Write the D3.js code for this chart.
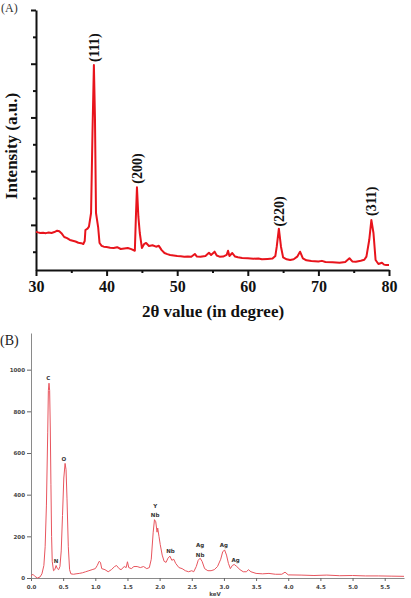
<!DOCTYPE html>
<html>
<head>
<meta charset="utf-8">
<script src="https://d3js.org/d3.v7.min.js"></script>
<style>
  body { margin: 0; background: #fff; }
  svg { display: block; }
</style>
</head>
<body>
<script>
// Panel A: XRD pattern (2-theta, intensity a.u.)
var xrdPoints = [
  [30.0, 873], [30.3, 860], [30.6, 849], [31.0, 855], [31.4, 846], [31.8, 858], [32.2, 850],
  [32.6, 866], [33.0, 892], [33.3, 880], [33.6, 845], [34.0, 774], [34.4, 752], [34.8, 720],
  [35.2, 705], [35.6, 690], [36.0, 668], [36.4, 660], [36.7, 644], [36.9, 700], [37.0, 905],
  [37.3, 930], [37.5, 966], [37.8, 1221], [38.0, 2710], [38.2, 3976], [38.35, 3008],
  [38.5, 1221], [38.8, 960], [39.0, 663], [39.3, 610], [39.6, 594], [40.0, 588], [40.5, 575],
  [41.0, 570], [41.5, 585], [42.0, 551], [42.5, 560], [43.0, 570], [43.5, 548], [44.0, 519],
  [44.15, 1152], [44.3, 1699], [44.5, 1152], [44.7, 849], [45.0, 570], [45.3, 640],
  [45.6, 663], [46.0, 607], [46.5, 620], [47.0, 594], [47.4, 610], [47.8, 530], [48.2, 476],
  [48.6, 455], [49.0, 439], [49.5, 430], [50.0, 421], [50.5, 415], [51.0, 408], [51.5, 412],
  [52.0, 408], [52.5, 458], [52.8, 410], [53.3, 405], [54.0, 421], [54.5, 482], [54.8, 440],
  [55.3, 501], [55.6, 430], [56.0, 408], [56.5, 410], [57.0, 440], [57.2, 519], [57.4, 420],
  [57.8, 476], [58.2, 410], [58.6, 396], [59.2, 385], [60.0, 378], [60.8, 370], [61.5, 375],
  [62.0, 359], [62.8, 365], [63.5, 372], [63.9, 420], [64.1, 594], [64.4, 929], [64.7, 594],
  [65.0, 396], [65.5, 360], [66.0, 346], [66.5, 360], [67.0, 408], [67.4, 501], [67.8, 378],
  [68.3, 340], [69.0, 328], [70.0, 320], [70.5, 330], [71.0, 309], [72.0, 305], [73.0, 296],
  [73.8, 310], [74.4, 378], [74.8, 320], [75.3, 315], [76.0, 333], [76.5, 350], [76.8, 408],
  [77.2, 718], [77.5, 1091], [77.8, 849], [78.1, 346], [78.5, 272], [79.0, 296], [79.3, 260],
  [79.6, 253], [80.0, 253]
];
var xrdTicksMajor = [30, 40, 50, 60, 70, 80];
var xrdTicksMinor = [35, 45, 55, 65, 75];
var intensityTicksMajor = [1000, 2000, 3000, 4000, 5000];
var intensityTicksMinor = [500, 1500, 2500, 3500, 4500];
var peakLabels = [
  { hkl: "(111)", theta: 38.2, at: 4300 },
  { hkl: "(200)", theta: 44.3, at: 2050 },
  { hkl: "(220)", theta: 64.4, at: 1250 },
  { hkl: "(311)", theta: 77.5, at: 1440 }
];

// Panel B: EDS spectrum (keV, counts)
var edsPoints = [
  [0.0, 10], [0.03, 18], [0.06, 8], [0.1, 0], [0.14, 5], [0.17, 20], [0.2, 60], [0.22, 150],
  [0.24, 350], [0.26, 700], [0.27, 900], [0.28, 935], [0.29, 900], [0.3, 720], [0.31, 450],
  [0.32, 200], [0.33, 80], [0.35, 35], [0.37, 40], [0.39, 60], [0.41, 45], [0.43, 40],
  [0.45, 55], [0.47, 130], [0.49, 300], [0.51, 480], [0.53, 550], [0.545, 520], [0.56, 380],
  [0.58, 150], [0.6, 40], [0.62, 20], [0.66, 18], [0.7, 20], [0.75, 22], [0.8, 25], [0.85, 30],
  [0.9, 35], [0.95, 40], [1.0, 45], [1.03, 60], [1.06, 80], [1.08, 75], [1.1, 45], [1.15, 40],
  [1.2, 30], [1.25, 40], [1.3, 55], [1.33, 60], [1.37, 45], [1.4, 40], [1.45, 55], [1.48, 50],
  [1.5, 78], [1.52, 50], [1.56, 45], [1.6, 55], [1.65, 55], [1.7, 50], [1.75, 55], [1.8, 45],
  [1.84, 50], [1.87, 90], [1.9, 220], [1.92, 280], [1.94, 270], [1.96, 220], [1.97, 240],
  [1.99, 200], [2.01, 160], [2.04, 110], [2.07, 80], [2.1, 75], [2.13, 95], [2.16, 105],
  [2.19, 85], [2.22, 90], [2.25, 70], [2.3, 50], [2.35, 45], [2.4, 35], [2.45, 30], [2.5, 35],
  [2.53, 30], [2.57, 55], [2.6, 85], [2.63, 95], [2.66, 80], [2.7, 45], [2.75, 35], [2.8, 35],
  [2.85, 40], [2.9, 55], [2.95, 90], [2.98, 125], [3.01, 135], [3.04, 110], [3.07, 70],
  [3.1, 45], [3.13, 60], [3.16, 65], [3.2, 55], [3.25, 40], [3.3, 30], [3.35, 30], [3.38, 40],
  [3.42, 30], [3.5, 22], [3.6, 20], [3.7, 22], [3.8, 18], [3.9, 18], [3.95, 28], [4.0, 15],
  [4.2, 14], [4.4, 12], [4.6, 14], [4.8, 11], [5.0, 12], [5.2, 10], [5.4, 10], [5.6, 9], [5.8, 8]
];
var kevTicks = [0, 0.5, 1, 1.5, 2, 2.5, 3, 3.5, 4, 4.5, 5, 5.5];
var countTicks = [0, 200, 400, 600, 800, 1000];
var elementLabels = [
  { el: "C", kev: 0.27, at: 950 },
  { el: "N", kev: 0.39, at: 72 },
  { el: "O", kev: 0.51, at: 560 },
  { el: "Y", kev: 1.93, at: 336 },
  { el: "Nb", kev: 1.93, at: 293 },
  { el: "Nb", kev: 2.17, at: 120 },
  { el: "Ag", kev: 2.63, at: 147 },
  { el: "Nb", kev: 2.63, at: 101 },
  { el: "Ag", kev: 3.0, at: 147 },
  { el: "Ag", kev: 3.18, at: 77 }
];

var W = 411, H = 598;
var svg = d3.select("body").append("svg").attr("width", W).attr("height", H);
svg.append("rect").attr("width", W).attr("height", H).attr("fill", "#fff");

var serif = "'Liberation Serif', 'DejaVu Serif', serif";

// ---------- Panel A ----------
var xA = d3.scaleLinear().domain([30, 80]).range([36, 389]);
var yA = d3.scaleLinear().domain([160, 5000]).range([270, 10]);
var gA = svg.append("g");

gA.append("text").attr("x", 1).attr("y", 12)
  .attr("font-family", serif).attr("font-size", 12).attr("fill", "#333").text("(A)");

function styleAxisA(g) {
  g.select(".domain").attr("stroke", "#111").attr("stroke-width", 2);
  g.selectAll(".tick line").attr("stroke", "#111").attr("stroke-width", 2);
}

gA.append("g").attr("transform", "translate(0,270)")
  .call(d3.axisBottom(xA).tickValues(xrdTicksMinor).tickSize(3).tickFormat(""))
  .call(styleAxisA).call(function(g) { g.select(".domain").remove(); });
gA.append("g").attr("transform", "translate(0,270)")
  .call(d3.axisBottom(xA).tickValues(xrdTicksMajor).tickSizeInner(6).tickSizeOuter(0).tickPadding(5))
  .call(styleAxisA)
  .call(function(g) {
    g.selectAll("text").attr("font-family", serif).attr("font-weight", "bold")
      .attr("font-size", 16).attr("fill", "#111");
  });

gA.append("g").attr("transform", "translate(36,0)")
  .call(d3.axisLeft(yA).tickValues(intensityTicksMinor).tickSize(3).tickFormat(""))
  .call(styleAxisA).call(function(g) { g.select(".domain").remove(); });
gA.append("g").attr("transform", "translate(36,0)")
  .call(d3.axisLeft(yA).tickValues(intensityTicksMajor).tickSizeInner(5).tickSizeOuter(0).tickFormat(""))
  .call(styleAxisA);

gA.append("path").datum(xrdPoints)
  .attr("fill", "none").attr("stroke", "#e8141c").attr("stroke-width", 2)
  .attr("stroke-linejoin", "round")
  .attr("d", d3.line().x(function(d) { return xA(d[0]); }).y(function(d) { return yA(d[1]); }));

gA.selectAll(".peak").data(peakLabels).enter().append("text")
  .attr("class", "peak")
  .attr("transform", function(d) { return "translate(" + (xA(d.theta) + 5) + "," + yA(d.at) + ") rotate(-90)"; })
  .attr("text-anchor", "middle")
  .attr("font-family", serif).attr("font-weight", "bold").attr("font-size", 14)
  .attr("fill", "#111")
  .text(function(d) { return d.hkl; });

gA.append("text")
  .attr("transform", "translate(17,146) rotate(-90)")
  .attr("text-anchor", "middle")
  .attr("font-family", serif).attr("font-weight", "bold").attr("font-size", 17).attr("fill", "#111")
  .text("Intensity (a.u.)");

gA.append("text").attr("x", 213).attr("y", 317)
  .attr("text-anchor", "middle")
  .attr("font-family", serif).attr("font-weight", "bold").attr("font-size", 17).attr("fill", "#111")
  .text("2θ value (in degree)");

// ---------- Panel B ----------
var xB = d3.scaleLinear().domain([0, 5.8]).range([31, 404]);
var yB = d3.scaleLinear().domain([0, 1176]).range([578, 333]);
var gB = svg.append("g");

gB.append("text").attr("x", 0).attr("y", 345)
  .attr("font-family", serif).attr("font-size", 14).attr("fill", "#222").text("(B)");

function styleAxisB(g) {
  g.select(".domain").attr("stroke", "#8a8a8a").attr("stroke-width", 1);
  g.selectAll(".tick line").attr("stroke", "#666");
  g.selectAll("text").attr("font-family", "'DejaVu Sans', sans-serif").attr("font-weight", "bold")
    .attr("font-size", 5.5).attr("fill", "#444");
}

gB.append("g").attr("transform", "translate(0,578)")
  .call(d3.axisBottom(xB).tickValues(kevTicks).tickSizeInner(3).tickSizeOuter(0).tickPadding(4)
    .tickFormat(d3.format(".1f")))
  .call(styleAxisB);

gB.append("g").attr("transform", "translate(31,0)")
  .call(d3.axisLeft(yB).tickValues(countTicks).tickSizeInner(4).tickSizeOuter(0).tickPadding(2)
    .tickFormat(d3.format("d")))
  .call(styleAxisB);

gB.append("path").datum(edsPoints)
  .attr("fill", "none").attr("stroke", "#e8555e").attr("stroke-width", 1)
  .attr("stroke-linejoin", "round")
  .attr("d", d3.line().x(function(d) { return xB(d[0]); }).y(function(d) { return yB(d[1]); }));

gB.selectAll(".el").data(elementLabels).enter().append("text")
  .attr("class", "el")
  .attr("x", function(d) { return xB(d.kev); })
  .attr("y", function(d) { return yB(d.at); })
  .attr("text-anchor", "middle")
  .attr("font-family", "'DejaVu Sans', sans-serif").attr("font-weight", "bold")
  .attr("font-size", 5.5).attr("fill", "#333")
  .text(function(d) { return d.el; });

gB.append("text").attr("x", 215).attr("y", 596)
  .attr("text-anchor", "middle")
  .attr("font-family", "'DejaVu Sans', sans-serif").attr("font-weight", "bold")
  .attr("font-size", 5.5).attr("fill", "#444").text("keV");
</script>
</body>
</html>
